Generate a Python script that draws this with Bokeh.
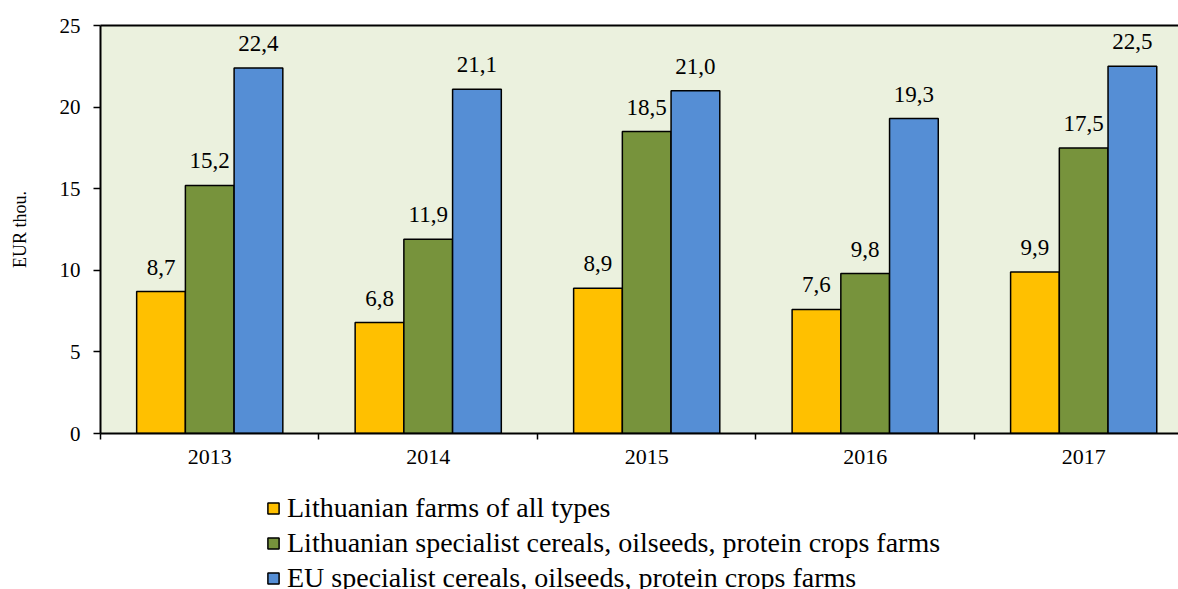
import numpy as np
from bokeh.plotting import figure
from bokeh.models import (ColumnDataSource, Range1d, FixedTicker, LinearAxis, Legend,
                          LegendItem, LabelSet)
from bokeh.layouts import column
from bokeh.transform import dodge
from bokeh.embed import file_html
from bokeh.resources import INLINE

years = ["2013", "2014", "2015", "2016", "2017"]
lt_all = [8.7, 6.8, 8.9, 7.6, 9.9]
lt_cereal = [15.2, 11.9, 18.5, 9.8, 17.5]
eu_cereal = [22.4, 21.1, 21.0, 19.3, 22.5]
series_names = ["Lithuanian farms of all types",
                "Lithuanian specialist cereals, oilseeds, protein crops farms",
                "EU specialist cereals, oilseeds, protein crops farms"]
colors = ["#FFC000", "#77933C", "#558ED5"]
y_ticks = [0, 5, 10, 15, 20, 25]

FONT = "Liberation Serif"

def fmt(v):
    return f"{v:.1f}".replace(".", ",")

xs = list(range(len(years)))
src = ColumnDataSource(dict(
    x=xs,
    a=lt_all, b=lt_cereal, c=eu_cereal,
    la=[fmt(v) for v in lt_all], lb=[fmt(v) for v in lt_cereal], lc=[fmt(v) for v in eu_cereal],
))

W = 1178
H1 = 480
p = figure(width=W, height=H1, output_backend="svg", toolbar_location=None,
           x_range=Range1d(-0.5, 4.434), y_range=Range1d(0, 25),
           min_border_left=100, min_border_right=0, min_border_top=25, min_border_bottom=H1 - 433)
p.background_fill_color = "#EBF1DE"
p.border_fill_color = "white"
p.outline_line_color = None
p.xgrid.visible = False
p.ygrid.visible = False

bw = 0.223
for key, lab, off, col in zip(["a", "b", "c"], ["la", "lb", "lc"], [-bw, 0, bw], colors):
    p.vbar(x=dodge("x", off, range=p.x_range), top=key, width=bw, bottom=0, source=src,
           fill_color=col, line_color="black", line_width=1.5)
    ls = LabelSet(x=dodge("x", off, range=p.x_range), y=key, text=lab, source=src,
                  text_align="center", text_baseline="bottom", y_offset=17,
                  text_font=FONT, text_font_size="23px", text_color="black")
    p.add_layout(ls)

xa = p.xaxis[0]
xa.ticker = FixedTicker(ticks=xs, minor_ticks=[-0.5, 0.5, 1.5, 2.5, 3.5, 4.5])
xa.major_label_overrides = {i: y for i, y in enumerate(years)}
xa.major_tick_out = 0
xa.major_tick_in = 0
xa.minor_tick_out = 6
xa.minor_tick_in = 0
xa.minor_tick_line_color = "black"
xa.minor_tick_line_width = 1.5
xa.axis_line_width = 2
xa.axis_line_color = "black"
xa.major_label_standoff = 10
xa.major_label_text_font = FONT
xa.major_label_text_font_size = "22px"
xa.major_label_text_color = "black"

ya = p.yaxis[0]
ya.ticker = FixedTicker(ticks=y_ticks, minor_ticks=[])
ya.major_tick_out = 7
ya.major_tick_in = 0
ya.major_tick_line_width = 1.5
ya.major_tick_line_color = "black"
ya.axis_line_width = 2
ya.axis_line_color = "black"
ya.major_label_standoff = 13
ya.major_label_text_font = FONT
ya.major_label_text_font_size = "21px"
ya.major_label_text_color = "black"
ya.axis_label = "EUR thou."
ya.axis_label_text_font = FONT
ya.axis_label_text_font_size = "18px"
ya.axis_label_text_font_style = "normal"
ya.axis_label_text_color = "black"
ya.axis_label_standoff = 27

top = LinearAxis(ticker=FixedTicker(ticks=[]), axis_line_width=2, axis_line_color="black",
                 major_label_text_font_size="0px", major_tick_out=0, major_tick_in=0,
                 minor_tick_out=0, minor_tick_in=0)
p.add_layout(top, "above")

# legend panel below the chart
H2 = 589 - H1
q = figure(width=W, height=H2, output_backend="svg", toolbar_location=None,
           x_range=Range1d(0, 1), y_range=Range1d(0, 1), min_border=0)
q.axis.visible = False
q.xgrid.visible = False
q.ygrid.visible = False
q.outline_line_color = None
q.background_fill_color = "white"
q.border_fill_color = "white"
dummies = []
for col in colors:
    # swatch-only renderer (NaN data draws nothing on the canvas)
    dummies.append(q.vbar(x=np.array([np.nan]), top=np.array([np.nan]), width=0.1,
                          fill_color=col, line_color="black", line_width=1.5))

legend = Legend(items=[LegendItem(label=n, renderers=[r]) for n, r in zip(series_names, dummies)],
                location=(166, -4.5), orientation="vertical",
                glyph_width=14, glyph_height=14, label_height=20, spacing=3,
                label_standoff=7, padding=0, margin=0,
                label_text_font=FONT, label_text_font_size="28px", label_text_color="black",
                border_line_color=None, background_fill_alpha=0)
q.add_layout(legend, "center")

open("out.html", "w").write(file_html(column(p, q, spacing=0), INLINE))
